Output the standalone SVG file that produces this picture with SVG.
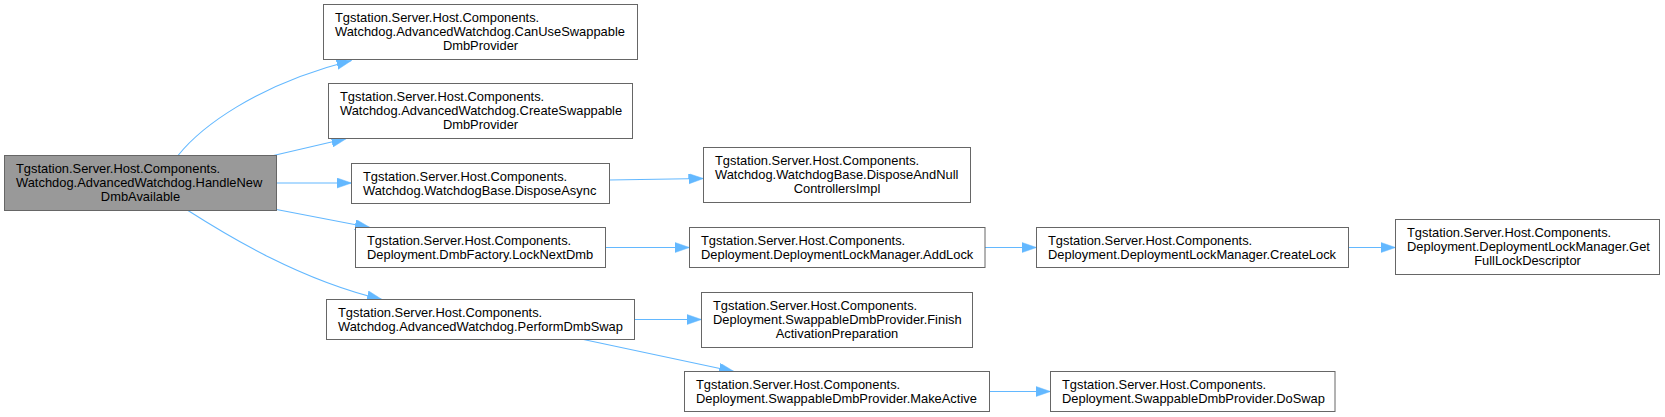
<svg xmlns="http://www.w3.org/2000/svg" width="1665" height="417" viewBox="0 0 1665 417">
<style>
.n rect{fill:#ffffff;stroke:#666666;stroke-width:1}
#main rect{fill:#999999}
text{font-family:"Liberation Sans",Arial,Helvetica,sans-serif;font-size:12.9px;fill:#000000}
.c{text-anchor:middle}
.e path{fill:none;stroke:#63b8ff;stroke-width:1.1}
</style>
<defs>
<marker id="ah" markerUnits="userSpaceOnUse" markerWidth="16" markerHeight="11" refX="15" refY="5.2" orient="auto" viewBox="0 0 16 11">
<path d="M0,0 L15,5.2 L0,10.4 z" fill="#63b8ff" stroke="#63b8ff" stroke-width="0.5"/>
</marker>
</defs>
<rect width="1665" height="417" fill="#ffffff"/>
<g id="edges" class="e">
<path d="M178,155.5 C200,128 255,85 351.5,60.5" marker-end="url(#ah)"/>
<path d="M273.5,155.5 L346.5,138.5" marker-end="url(#ah)"/>
<path d="M276.5,183 L351.5,183" marker-end="url(#ah)"/>
<path d="M276.5,209.5 L370,227.5" marker-end="url(#ah)"/>
<path d="M188,210.5 C228,236 300,280 382,299.5" marker-end="url(#ah)"/>
<path d="M609,180 L703.5,178.5" marker-end="url(#ah)"/>
<path d="M605.5,247.5 L689.5,247.5" marker-end="url(#ah)"/>
<path d="M634.5,319.5 L701.5,319.5" marker-end="url(#ah)"/>
<path d="M583.5,339.5 L734,371.5" marker-end="url(#ah)"/>
<path d="M985,247.5 L1036.5,247.5" marker-end="url(#ah)"/>
<path d="M1348.5,247.5 L1395.5,247.5" marker-end="url(#ah)"/>
<path d="M989.5,391.5 L1050.5,391.5" marker-end="url(#ah)"/>
</g>
<g id="main" class="n">
<rect x="4.5" y="155.5" width="272" height="55"/>
<text x="16" y="173.3">Tgstation.Server.Host.Components.</text>
<text x="16" y="187.1">Watchdog.AdvancedWatchdog.HandleNew</text>
<text x="140.5" y="200.9" class="c">DmbAvailable</text>
</g>
<g id="canuse" class="n">
<rect x="323.5" y="4.5" width="314" height="55"/>
<text x="335" y="22.3">Tgstation.Server.Host.Components.</text>
<text x="335" y="36.1">Watchdog.AdvancedWatchdog.CanUseSwappable</text>
<text x="480.5" y="49.9" class="c">DmbProvider</text>
</g>
<g id="create" class="n">
<rect x="328.5" y="83.5" width="304" height="55"/>
<text x="340" y="101.3">Tgstation.Server.Host.Components.</text>
<text x="340" y="115.1">Watchdog.AdvancedWatchdog.CreateSwappable</text>
<text x="480.5" y="128.9" class="c">DmbProvider</text>
</g>
<g id="dispose" class="n">
<rect x="351.5" y="163.5" width="258" height="40"/>
<text x="363" y="180.8">Tgstation.Server.Host.Components.</text>
<text x="363" y="194.6">Watchdog.WatchdogBase.DisposeAsync</text>
</g>
<g id="locknext" class="n">
<rect x="355.5" y="227.5" width="250" height="40"/>
<text x="367" y="244.8">Tgstation.Server.Host.Components.</text>
<text x="367" y="258.6">Deployment.DmbFactory.LockNextDmb</text>
</g>
<g id="perform" class="n">
<rect x="326.5" y="299.5" width="308" height="40"/>
<text x="338" y="316.8">Tgstation.Server.Host.Components.</text>
<text x="338" y="330.6">Watchdog.AdvancedWatchdog.PerformDmbSwap</text>
</g>
<g id="disposenull" class="n">
<rect x="703.5" y="147.5" width="267" height="55"/>
<text x="715" y="165.3">Tgstation.Server.Host.Components.</text>
<text x="715" y="179.1">Watchdog.WatchdogBase.DisposeAndNull</text>
<text x="837" y="192.9" class="c">ControllersImpl</text>
</g>
<g id="addlock" class="n">
<rect x="689.5" y="227.5" width="295.5" height="40"/>
<text x="701" y="244.8">Tgstation.Server.Host.Components.</text>
<text x="701" y="258.6">Deployment.DeploymentLockManager.AddLock</text>
</g>
<g id="finish" class="n">
<rect x="701.5" y="292.5" width="271" height="55"/>
<text x="713" y="310.3">Tgstation.Server.Host.Components.</text>
<text x="713" y="324.1">Deployment.SwappableDmbProvider.Finish</text>
<text x="837" y="337.9" class="c">ActivationPreparation</text>
</g>
<g id="makeactive" class="n">
<rect x="684.5" y="371.5" width="305" height="40"/>
<text x="696" y="388.8">Tgstation.Server.Host.Components.</text>
<text x="696" y="402.6">Deployment.SwappableDmbProvider.MakeActive</text>
</g>
<g id="createlock" class="n">
<rect x="1036.5" y="227.5" width="312" height="40"/>
<text x="1048" y="244.8">Tgstation.Server.Host.Components.</text>
<text x="1048" y="258.6">Deployment.DeploymentLockManager.CreateLock</text>
</g>
<g id="getfull" class="n">
<rect x="1395.5" y="219.5" width="264" height="55"/>
<text x="1407" y="237.3">Tgstation.Server.Host.Components.</text>
<text x="1407" y="251.1">Deployment.DeploymentLockManager.Get</text>
<text x="1527.5" y="264.9" class="c">FullLockDescriptor</text>
</g>
<g id="doswap" class="n">
<rect x="1050.5" y="371.5" width="284.5" height="40"/>
<text x="1062" y="388.8">Tgstation.Server.Host.Components.</text>
<text x="1062" y="402.6">Deployment.SwappableDmbProvider.DoSwap</text>
</g>
</svg>
